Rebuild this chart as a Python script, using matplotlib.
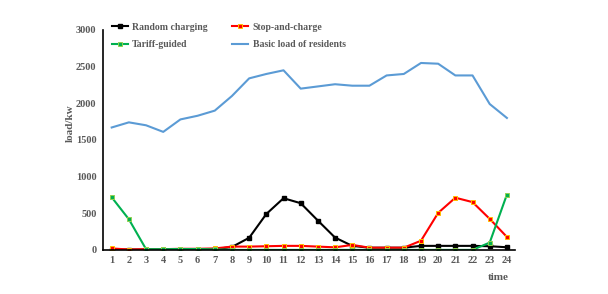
import matplotlib
matplotlib.use('Agg')
import matplotlib.pyplot as plt

# ── DATA ──
hours = list(range(1, 25))
random_charging = [5, 5, 5, 5, 5, 5, 10, 40, 165, 490, 705, 637, 400, 168, 55, 30, 30, 30, 55, 55, 55, 55, 50, 36]
stop_and_charge = [20, 5, 10, 10, 15, 15, 20, 45, 45, 50, 55, 55, 45, 35, 68, 30, 30, 30, 125, 505, 712, 652, 423, 177]
tariff_guided = [718, 418, 10, 10, 12, 12, 8, 0, 0, 0, 0, 0, 0, 0, 0, 0, 0, 0, 0, 0, 0, 0, 100, 755]
basic_load = [1670, 1740, 1700, 1610, 1780, 1830, 1900, 2100, 2340, 2400, 2450, 2200, 2230, 2260, 2240,
              2240, 2380, 2400, 2550, 2540, 2380, 2380, 1990, 1800]

# ── STYLE ──
FONT = 'Liberation Serif'
GREY = '#595959'

fig = plt.figure(figsize=(6.08, 2.94), dpi=100)
ax = fig.add_axes([0.169, 0.150, 0.678, 0.748])

h_basic, = ax.plot(hours, basic_load, color='#5B9BD5', lw=1.5, label='Basic load of residents')
h_rand, = ax.plot(hours, random_charging, color='black', lw=1.5, marker='s', ms=3.2,
                  mfc='black', mec='black', label='Random charging')
h_stop, = ax.plot(hours, stop_and_charge, color='#FF0000', lw=1.5, marker='s', ms=3.2,
                  mfc='#FF0000', mec='#FFC000', mew=0.7, label='Stop-and-charge')
h_tar, = ax.plot(hours, tariff_guided, color='#00B050', lw=1.5, marker='s', ms=3.2,
                 mfc='#00B050', mec='#92D050', mew=0.7, label='Tariff-guided')

ax.set_xlim(0.48, 24.47)
ax.set_ylim(0, 3000)
ax.set_xticks(hours)
ax.set_yticks(range(0, 3001, 500))
ax.tick_params(length=0, pad=4.5, labelsize=7.5, labelcolor=GREY)
for lab in ax.get_xticklabels() + ax.get_yticklabels():
    lab.set_fontfamily(FONT)
    lab.set_fontweight('bold')

for s in ['top', 'right']:
    ax.spines[s].set_visible(False)
for s in ['left', 'bottom']:
    ax.spines[s].set_linewidth(1.2)

fig.text(498 / 608, 1 - 277 / 294, 'time', ha='center', va='center',
         fontsize=8, fontweight='bold', color=GREY, fontfamily=FONT)
fig.text(70 / 608, 1 - 123 / 294, 'load/kw', ha='center', va='center', rotation=90,
         fontsize=8, fontweight='bold', color=GREY, fontfamily=FONT)

# legend: column-wise fill -> Random/Tariff left, Stop/Basic right
leg = fig.legend([h_rand, h_tar, h_stop, h_basic],
                 ['Random charging', 'Tariff-guided', 'Stop-and-charge', 'Basic load of residents'],
                 ncol=2, loc='upper left', bbox_to_anchor=(108 / 608, 1 - 19 / 294),
                 frameon=False, handlelength=1.65, handletextpad=0.45, columnspacing=2.5,
                 labelspacing=0.85, borderaxespad=0,
                 prop={'family': FONT, 'weight': 'bold', 'size': 7})
for t in leg.get_texts():
    t.set_color(GREY)

fig.savefig('out.png', dpi=100)
